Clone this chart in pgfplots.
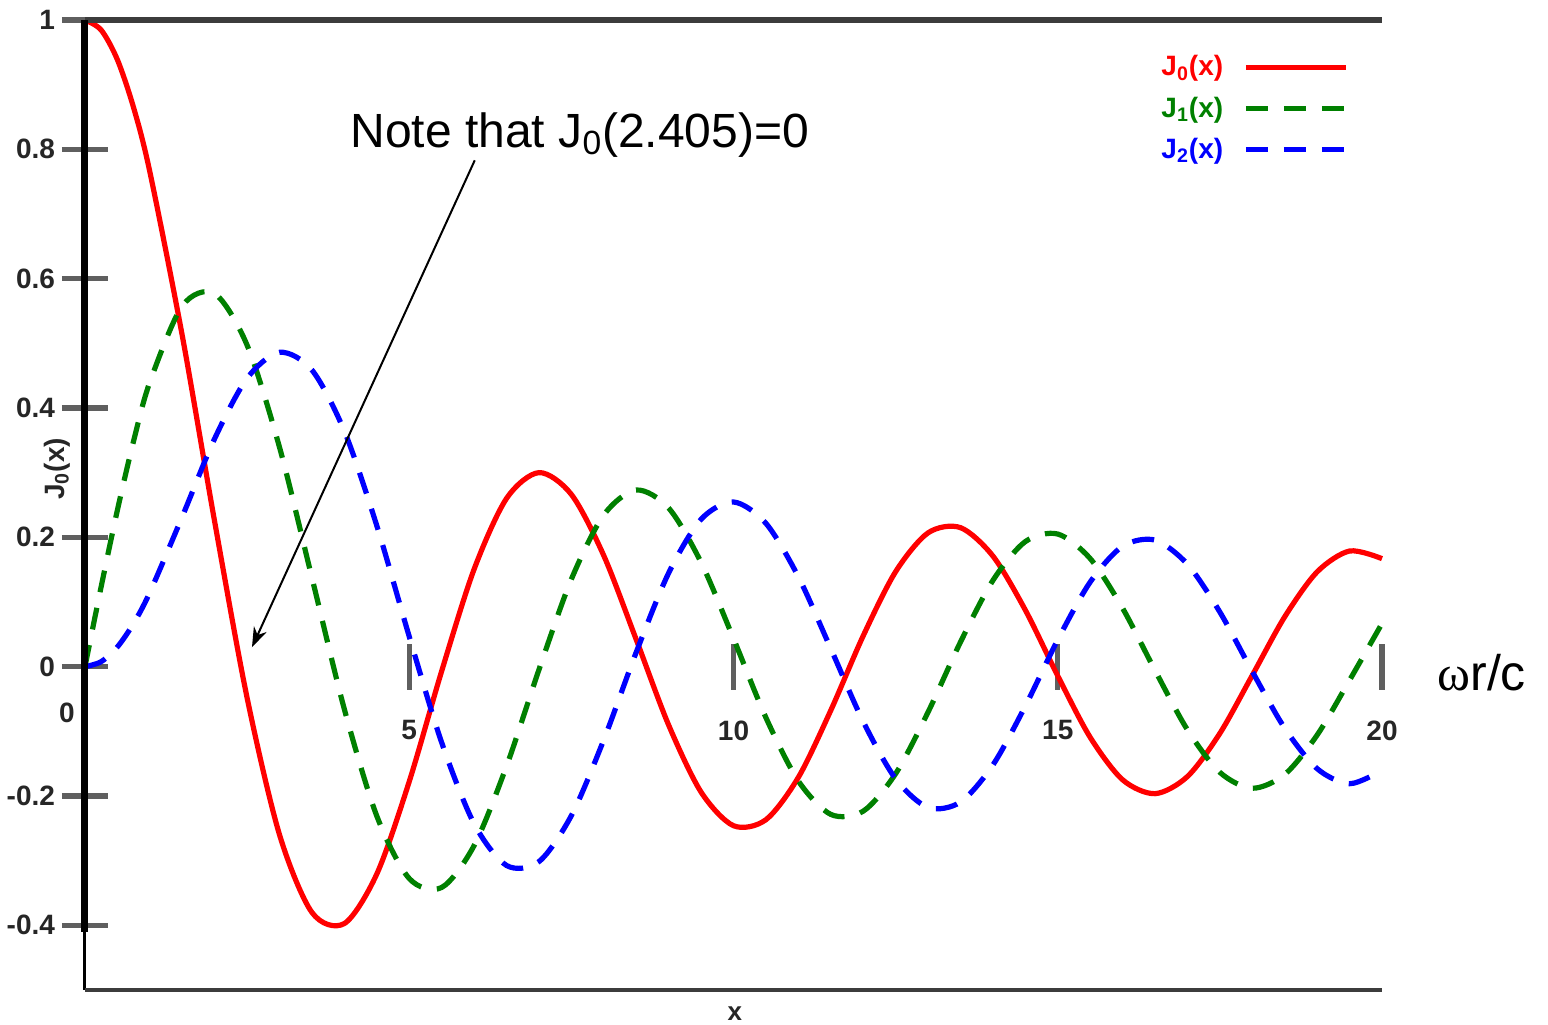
\documentclass[border=0pt]{standalone}
\usepackage{pgfplots}
\pgfplotsset{compat=1.18}
\usepackage{pgfplotstable}
\usepackage{fontspec}
\setmainfont{Liberation Sans}
\newfontfamily\greekserif{Liberation Serif}
\usetikzlibrary{arrows.meta}
\definecolor{tickgray}{RGB}{95,95,95}
\definecolor{framegray}{RGB}{60,60,60}
\definecolor{jred}{RGB}{255,0,0}
\definecolor{jgreen}{RGB}{0,128,0}
\definecolor{jblue}{RGB}{0,0,255}

\pgfplotstableread{
x     J0       J1       J2
0     1.00000  0.00000  0.00000
0.25  0.98444  0.12403  0.00777
0.5   0.93847  0.24227  0.03061
0.75  0.86424  0.34924  0.06708
1     0.76520  0.44005  0.11490
1.5   0.51183  0.55794  0.23209
2     0.22389  0.57672  0.35283
2.5  -0.04838  0.49709  0.44605
3    -0.26005  0.33906  0.48609
3.5  -0.38013  0.13738  0.45863
4    -0.39715 -0.06604  0.36413
4.5  -0.32054 -0.23106  0.21785
5    -0.17760 -0.32758  0.04657
5.5  -0.00684 -0.34144 -0.11732
6     0.15065 -0.27668 -0.24288
6.5   0.26009 -0.15384 -0.30743
7     0.30008 -0.00468 -0.30142
7.5   0.26634  0.13525 -0.23027
8     0.17165  0.23464 -0.11299
8.5   0.04194  0.27312  0.02232
9    -0.09033  0.24531  0.14484
9.5  -0.19393  0.16126  0.22788
10   -0.24594  0.04347  0.25463
10.5 -0.23665 -0.07885  0.22163
11   -0.17119 -0.17679  0.13905
11.5 -0.06765 -0.22844  0.02792
12    0.04769 -0.22345 -0.08493
12.5  0.14688 -0.16548 -0.17336
13    0.20693 -0.07032 -0.21775
13.5  0.21499  0.03805 -0.20935
14    0.17107  0.13338 -0.15202
14.5  0.08755  0.19343 -0.06087
15   -0.01422  0.20510  0.04157
15.5 -0.10923  0.16721  0.13081
16   -0.17490  0.09040  0.18620
16.5 -0.19638 -0.00576  0.19568
17   -0.16985 -0.09767  0.15836
17.5 -0.10311 -0.16342  0.08443
18   -0.01336 -0.18799 -0.00753
18.5  0.07717 -0.16663 -0.09518
19    0.14663 -0.10570 -0.15776
19.5  0.17885 -0.02088 -0.18099
20    0.16702  0.06683 -0.16034
}\besseldata

\begin{document}
\begin{tikzpicture}
\useasboundingbox (-42.5pt,-17pt) rectangle (731.5pt,495pt);
\begin{axis}[
  at={(0pt,0pt)}, anchor=south west,
  scale only axis, width=648.5pt, height=485pt,
  xmin=0, xmax=20, ymin=-0.5, ymax=1,
  axis x line=middle, axis y line=left,
  axis line style={draw=none},
  hide obscured x ticks=false, hide obscured y ticks=false,
  xtick={5,10,15,20}, xticklabels={5,10,15,20},
  ytick={-0.4,-0.2,0,0.2,0.4,0.6,0.8,1},
  yticklabels={-0.4,-0.2,0,0.2,0.4,0.6,0.8,1},
  tick align=center, major tick length=23pt,
  tick style={line width=2.6pt, tickgray},
  tick label style={font=\bfseries\fontsize{14}{14}\selectfont, text=black!85},
  xticklabel style={anchor=north, yshift=-12pt},
  yticklabel style={anchor=east},
  clip=false,
  legend style={at={(rel axis cs:0.979,0.972)}, anchor=north east, draw=none, fill=none,
    font=\bfseries\fontsize{14}{14}\selectfont, row sep=5pt},
  legend cell align=left,
  legend plot pos=right,
  legend image code/.code={\path (0pt,0pt); \draw[#1] (8pt,0pt) -- (58pt,0pt);},
]
\addplot[jred, line width=2.6pt, smooth] table[x=x, y=J0] {\besseldata};
\addlegendentry{\textcolor{jred}{J\textsubscript{0}(x)}}
\addplot[jgreen, line width=2.6pt, smooth, dash pattern=on 11pt off 8pt] table[x=x, y=J1] {\besseldata};
\addlegendentry{\textcolor{jgreen}{J\textsubscript{1}(x)}}
\addplot[jblue, line width=2.6pt, smooth, dash pattern=on 11pt off 8pt] table[x=x, y=J2] {\besseldata};
\addlegendentry{\textcolor{jblue}{J\textsubscript{2}(x)}}

\draw[framegray, line width=3pt] (axis cs:0,1) -- (axis cs:20,1);
\draw[black, line width=3.5pt] (axis cs:0,1) -- (axis cs:0,-0.41);
\draw[black, line width=1.5pt] (axis cs:0,-0.41) -- (axis cs:0,-0.5);
\draw[framegray, line width=2pt] (axis cs:0,-0.5) -- (axis cs:20,-0.5);

\node[font=\bfseries\fontsize{14}{14}\selectfont, text=black!85] at (axis cs:-0.28,-0.071) {0};
\node[font=\bfseries\fontsize{13}{13}\selectfont, text=black!85] at (axis cs:10.02,-0.537) {x};
\node[rotate=90, font=\bfseries\fontsize{14}{14}\selectfont, text=black!85] at (axis cs:-0.43,0.306) {J\textsubscript{0}(x)};

\node[anchor=base west, font=\fontsize{24}{24}\selectfont, inner sep=0pt] at (axis cs:4.086,0.803)
  {Note that J\textsubscript{0}(2.405)=0};
\draw[black, line width=1pt, -{Stealth[length=10pt,width=7pt]}] (axis cs:6.01,0.783) -- (axis cs:2.575,0.03);
\node[anchor=base west, font=\fontsize{25}{25}\selectfont, inner sep=0pt] at (axis cs:20.85,-0.037)
  {{\greekserif ω}r/c};
\end{axis}
\end{tikzpicture}
\end{document}
